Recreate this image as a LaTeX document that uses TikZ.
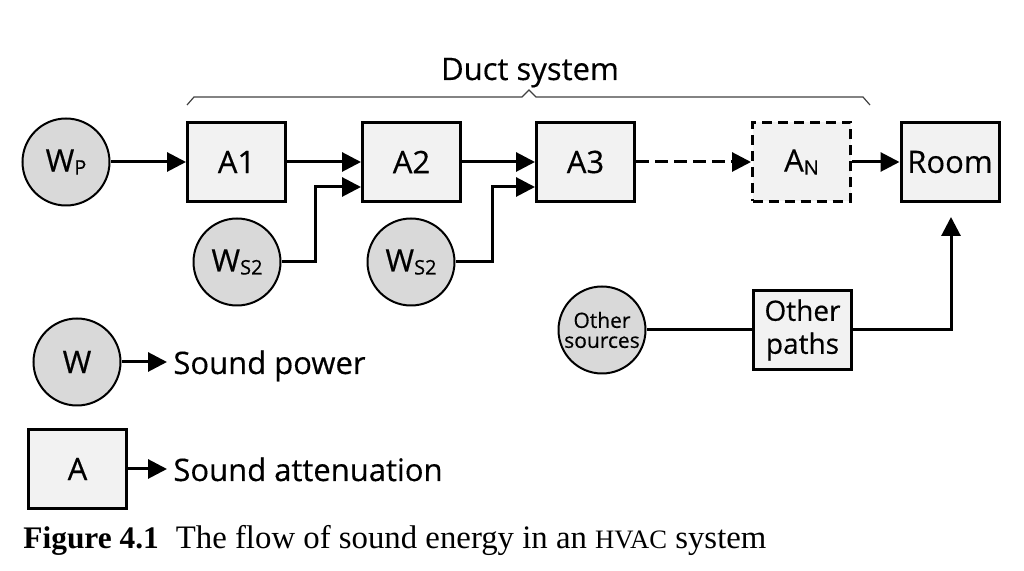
\documentclass[tikz,border=0pt]{standalone}
\usepackage{fontspec}
\setmainfont{Liberation Serif}
\newfontfamily\diag[FakeBold=0.4]{Open Sans}
\usetikzlibrary{arrows.meta}
\definecolor{circfill}{RGB}{217,217,217}
\definecolor{boxfill}{RGB}{242,242,242}
\newcommand\subx[1]{\raisebox{-1.5pt}{\fontsize{10}{10}\selectfont #1}}
\begin{document}
\begin{tikzpicture}[x=0.5pt,y=-0.5pt,
  src/.style={circle,draw,line width=1pt,fill=circfill,minimum size=43.5pt,inner sep=0pt,
    font=\diag\fontsize{15.5}{18}\selectfont},
  att/.style={rectangle,draw,line width=1.5pt,fill=boxfill,minimum width=49pt,minimum height=39.5pt,
    inner sep=0pt,font=\diag\fontsize{15.5}{18}\selectfont},
  flow/.style={line width=1.5pt,-{Triangle[length=9.5pt,width=9.5pt]}},
  wire/.style={line width=1.5pt},
  lbl/.style={font=\diag\fontsize{15.5}{18}\selectfont,inner sep=0pt,inner xsep=3pt},
  bracel/.style={line width=0.6pt,black!75,line join=miter}]
\useasboundingbox (0,0) rectangle (1024,571);
% main row
\node[src] (wp) at (66,162) {W\subx{P}};
\node[att] (a1) at (236.5,162) {A1};
\node[att] (a2) at (411.5,162) {A2};
\node[att] (a3) at (585.5,162) {A3};
\node[att,dashed,dash pattern=on 5pt off 3pt] (an) at (801.5,162) {A\subx{N}};
\node[att] (room) at (950,162) {Room};
% secondary sources
\node[src] (ws1) at (237,262) {W\subx{S2}};
\node[src] (ws2) at (411,262) {W\subx{S2}};
\node[src,font=\diag\fontsize{10.5}{10}\selectfont,align=center] (os) at (602,330) {Other\\sources};
\node[att,font=\diag\fontsize{14}{16.5}\selectfont,align=center] (op) at (802.5,330) {Other\\paths};
% brace
\draw[bracel] (187,105) -- (194,97) -- (522,97) -- (529,90) -- (536,97) -- (863,97) -- (870,105);
\node[font=\diag\fontsize{15.5}{18}\selectfont,anchor=base,inner sep=0pt] (duct) at (530,80) {Duct system};
% connectors
\draw[flow] (wp) -- (a1);
\draw[flow] (a1) -- (a2);
\draw[flow] (a2) -- (a3);
\draw[flow,dash pattern=on 6.5pt off 3pt] (a3) -- (an);
\draw[flow] (an) -- (room);
\draw[flow] (ws1.east) -| ([xshift=-23pt,yshift=-12.5pt]a2.west) -- ([yshift=-12.5pt]a2.west);
\draw[flow] (ws2.east) -| ([xshift=-21.5pt,yshift=-12.5pt]a3.west) -- ([yshift=-12.5pt]a3.west);
\draw[wire] (os) -- (op);
\draw[flow] (op.east) -| ([xshift=0.5pt,yshift=-7pt]room.south);
% legend
\node[src] (w) at (77,362) {W};
\node[lbl,anchor=base west] (lw) at (167,374) {Sound power};
\draw[flow] (w.east) -- (lw.west |- w.east);
\node[att] (a) at (77.5,469) {A};
\node[lbl,anchor=base west] (la) at (167,481) {Sound attenuation};
\draw[flow] (a.east) -- (la.west |- a.east);
% caption
\node[anchor=base west,inner sep=0pt,font=\fontsize{16.4}{18}\selectfont] (cap) at (23,549)
  {{\fontsize{15.7}{18}\selectfont\bfseries Figure 4.1}\hspace{8.5pt}The flow of sound energy in an {\fontsize{13.3}{16}\selectfont HVAC} system};
\end{tikzpicture}
\end{document}
